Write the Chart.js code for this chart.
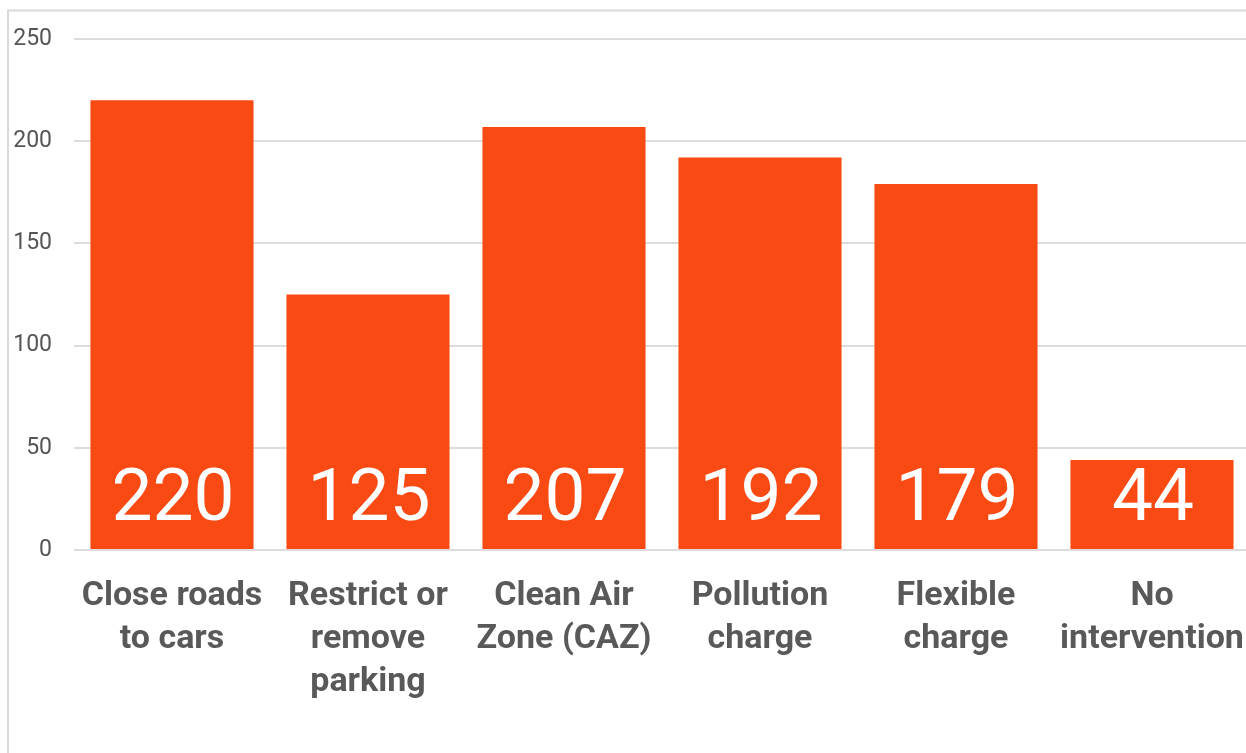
<!DOCTYPE html>
<html>
<head>
<meta charset="utf-8">
<script src="https://cdn.jsdelivr.net/npm/chart.js@4"></script>
<style>
html,body{margin:0;padding:0;background:#fff;overflow:hidden;width:1246px;height:753px;}
#wrap{position:absolute;left:0;top:0;width:1250px;height:753px;}
</style>
</head>
<body>
<div id="wrap"><canvas id="c" width="1250" height="753"></canvas></div>
<script>
const categories = [
  ["Close roads", "to cars"],
  ["Restrict or", "remove", "parking"],
  ["Clean Air", "Zone (CAZ)"],
  ["Pollution", "charge"],
  ["Flexible", "charge"],
  ["No", "intervention"]
];
const values = [220, 125, 207, 192, 179, 44];
const yTicks = [0, 50, 100, 150, 200, 250];

const framePlugin = {
  id: 'frame',
  beforeDraw(chart) {
    const ctx = chart.ctx;
    ctx.save();
    ctx.strokeStyle = '#d9d9d9';
    ctx.lineWidth = 2;
    ctx.beginPath();
    ctx.moveTo(8, 760);
    ctx.lineTo(8, 10.5);
    ctx.lineTo(1260, 10.5);
    ctx.stroke();
    ctx.restore();
  }
};

const valueLabels = {
  id: 'valueLabels',
  afterDatasetsDraw(chart) {
    const ctx = chart.ctx;
    const meta = chart.getDatasetMeta(0);
    const y0 = chart.scales.y.getPixelForValue(0);
    ctx.save();
    ctx.fillStyle = '#ffffff';
    ctx.font = '400 73px Roboto';
    ctx.textAlign = 'center';
    ctx.textBaseline = 'alphabetic';
    meta.data.forEach((bar, i) => {
      ctx.fillText(String(values[i]), bar.x + 1, y0 - 30);
    });
    ctx.restore();
  }
};

new Chart(document.getElementById('c'), {
  type: 'bar',
  data: {
    labels: categories,
    datasets: [{
      data: values,
      backgroundColor: '#fa4a14',
      borderWidth: 0,
      categoryPercentage: 1.0,
      barPercentage: 0.832
    }]
  },
  options: {
    responsive: false,
    animation: false,
    layout: { padding: { top: 39, right: 0, bottom: 0, left: 0 } },
    plugins: { legend: { display: false }, tooltip: { enabled: false } },
    scales: {
      x: {
        grid: { display: false, drawTicks: false },
        border: { display: false },
        ticks: {
          maxRotation: 0, minRotation: 0, autoSkip: false,
          padding: 25,
          color: '#595959',
          font: { family: 'Roboto', size: 34, weight: 'bold', lineHeight: 1.265 }
        },
        afterFit(s) { s.height = 753 - 550; s.paddingLeft = 0; s.paddingRight = 0; }
      },
      y: {
        min: 0, max: 250,
        afterBuildTicks(s) { s.ticks = yTicks.map(v => ({ value: v })); },
        grid: { color: '#dcdcdc', lineWidth: 2, drawTicks: false },
        border: { display: false },
        ticks: {
          padding: 22,
          color: '#555555',
          font: { family: 'Roboto', size: 23 }
        },
        afterFit(s) { s.width = 74; s.paddingTop = 0; s.paddingBottom = 0; }
      }
    }
  },
  plugins: [framePlugin, valueLabels]
});
</script>
</body>
</html>
